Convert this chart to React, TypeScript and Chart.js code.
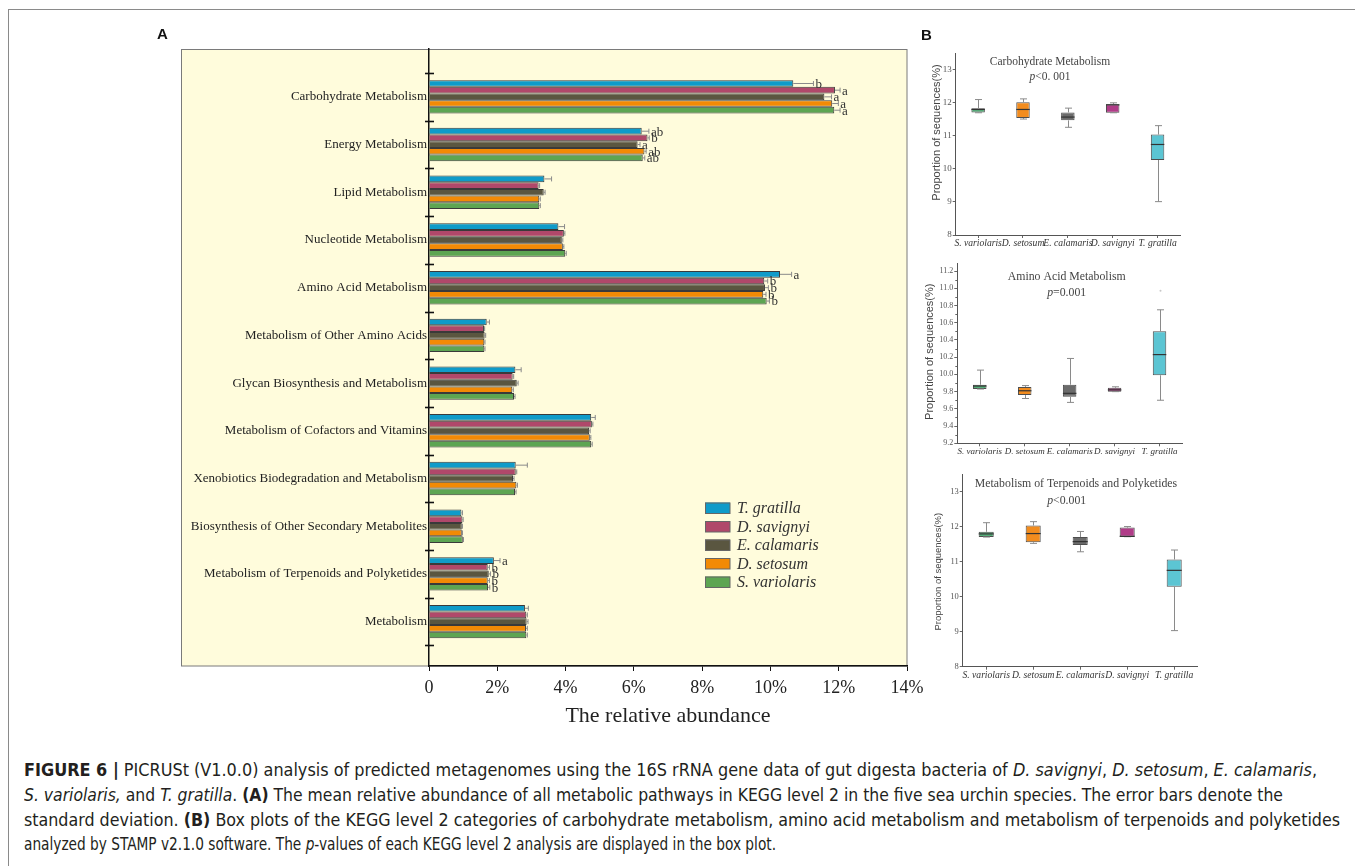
import React, { useEffect, useLayoutEffect, useRef } from "react";
import { Chart, registerables } from "chart.js";
Chart.register(...registerables);

const SERIF = '"Liberation Serif", "Times New Roman", serif';
const SANS = '"Liberation Sans", Arial, sans-serif';
Chart.defaults.font.family = SERIF;

// ---------------- Panel A data ----------------
const categories = [
  "Carbohydrate Metabolism",
  "Energy Metabolism",
  "Lipid Metabolism",
  "Nucleotide Metabolism",
  "Amino Acid Metabolism",
  "Metabolism of Other Amino Acids",
  "Glycan Biosynthesis and Metabolism",
  "Metabolism of Cofactors and Vitamins",
  "Xenobiotics Biodegradation and Metabolism",
  "Biosynthesis of Other Secondary Metabolites",
  "Metabolism of Terpenoids and Polyketides",
  "Metabolism",
];
const speciesA = ["T. gratilla", "D. savignyi", "E. calamaris", "D. setosum", "S. variolaris"];
const colorsA = ["#0f9bc9", "#b0486a", "#5a5640", "#f28a05", "#5da552"];

const tGratilla = [10.67, 6.23, 3.38, 3.79, 10.28, 1.69, 2.53, 4.75, 2.54, 0.95, 1.9, 2.81];
const dSavignyi = [11.89, 6.4, 3.21, 3.95, 9.82, 1.61, 2.45, 4.77, 2.54, 0.98, 1.72, 2.85];
const eCalamaris = [11.58, 6.11, 3.36, 3.89, 9.84, 1.63, 2.57, 4.69, 2.46, 0.96, 1.75, 2.86];
const dSetosum = [11.81, 6.31, 3.23, 3.92, 9.79, 1.62, 2.44, 4.71, 2.56, 0.96, 1.72, 2.84];
const sVariolaris = [11.87, 6.26, 3.23, 3.99, 9.89, 1.62, 2.49, 4.75, 2.52, 0.99, 1.73, 2.85];

const tGratillaSd = [0.59, 0.21, 0.21, 0.18, 0.34, 0.08, 0.17, 0.12, 0.34, 0.03, 0.18, 0.1];
const dSavignyiSd = [0.15, 0.05, 0.03, 0.03, 0.1, 0.02, 0.03, 0.03, 0.03, 0.02, 0.05, 0.03];
const eCalamarisSd = [0.21, 0.07, 0.04, 0.03, 0.1, 0.03, 0.04, 0.03, 0.03, 0.02, 0.05, 0.04];
const dSetosumSd = [0.18, 0.05, 0.03, 0.03, 0.08, 0.02, 0.03, 0.03, 0.03, 0.02, 0.05, 0.04];
const sVariolarisSd = [0.17, 0.06, 0.03, 0.03, 0.08, 0.02, 0.03, 0.03, 0.03, 0.02, 0.05, 0.03];

const tGratillaSig = ["b", "ab", "", "", "a", "", "", "", "", "", "a", ""];
const dSavignyiSig = ["a", "b", "", "", "b", "", "", "", "", "", "b", ""];
const eCalamarisSig = ["a", "a", "", "", "b", "", "", "", "", "", "b", ""];
const dSetosumSig = ["a", "ab", "", "", "b", "", "", "", "", "", "b", ""];
const sVariolarisSig = ["a", "ab", "", "", "b", "", "", "", "", "", "b", ""];

const xTicksA = [0, 2, 4, 6, 8, 10, 12, 14];

const seriesA = [tGratilla, dSavignyi, eCalamaris, dSetosum, sVariolaris];
const sdA = [tGratillaSd, dSavignyiSd, eCalamarisSd, dSetosumSd, sVariolarisSd];
const sigA = [tGratillaSig, dSavignyiSig, eCalamarisSig, dSetosumSig, sVariolarisSig];

// ---------------- Panel B data ----------------
const boxLabels = ["S. variolaris", "D. setosum", "E. calamaris", "D. savignyi", "T. gratilla"];
const boxColors = ["#55b07a", "#f28c1e", "#6b6b6b", "#b03c88", "#5cc5d3"];

const carbMin = [11.7, 11.51, 11.26, 11.7, 9.01];
const carbQ1 = [11.71, 11.54, 11.47, 11.7, 10.27];
const carbMed = [11.8, 11.8, 11.57, 11.94, 10.74];
const carbQ3 = [11.84, 12.02, 11.71, 11.96, 11.04];
const carbMax = [12.1, 12.12, 11.84, 12.0, 11.31];
const carbTicks = [8, 9, 10, 11, 12, 13];

const aminoMin = [9.83, 9.72, 9.675, 9.8, 9.7];
const aminoQ1 = [9.83, 9.76, 9.74, 9.8, 9.99];
const aminoMed = [9.865, 9.81, 9.78, 9.82, 10.23];
const aminoQ3 = [9.88, 9.855, 9.88, 9.845, 10.5];
const aminoMax = [10.05, 9.87, 10.185, 9.856, 10.75];
const aminoOutliers = [null, null, null, null, 10.97];
const aminoTicks = [9.2, 9.4, 9.6, 9.8, 10.0, 10.2, 10.4, 10.6, 10.8, 11.0, 11.2];
const aminoMinorTicks = [9.3, 9.5, 9.7, 9.9, 10.1, 10.3, 10.5, 10.7, 10.9, 11.1];

const terpMin = [11.7, 11.52, 11.28, 11.71, 9.03];
const terpQ1 = [11.7, 11.55, 11.47, 11.71, 10.28];
const terpMed = [11.79, 11.8, 11.57, 11.72, 10.75];
const terpQ3 = [11.85, 12.03, 11.7, 11.97, 11.06];
const terpMax = [12.11, 12.14, 11.86, 12.0, 11.33];
const terpTicks = [8, 9, 10, 11, 12, 13];

function drawMixed(c: any, parts: [string, boolean][], cx: number, cy: number, size: number, family: string, color: string) {
  c.save();
  c.fillStyle = color;
  c.textBaseline = "middle";
  c.textAlign = "left";
  const fonts = parts.map(([, it]) => `${it ? "italic " : ""}${size}px ${family}`);
  let total = 0;
  const widths = parts.map(([t], i) => {
    c.font = fonts[i];
    const w = c.measureText(t).width;
    total += w;
    return w;
  });
  let x = cx - total / 2;
  parts.forEach(([t], i) => {
    c.font = fonts[i];
    c.fillText(t, x, cy);
    x += widths[i];
  });
  c.restore();
}

// ---------------- Panel A ----------------
function ChartA() {
  const ref = useRef<HTMLCanvasElement>(null);
  useEffect(() => {
    const datasets = seriesA.map((vals, s) => ({
      label: speciesA[s],
      data: vals.map((v, i) => ({ x: v, y: i + 0.5 })),
      backgroundColor: colorsA[s],
      borderColor: "#3a3a3a",
      borderWidth: 1,
      borderSkipped: "start",
      categoryPercentage: 0.7,
      barPercentage: 1.0,
    }));
    const plugin = {
      id: "panelA",
      beforeDraw(chart: any) {
        const c = chart.ctx;
        c.save();
        c.fillStyle = "#fffcdc";
        c.fillRect(181, 49, 726, 617);
        c.strokeStyle = "#7a7a7a";
        c.lineWidth = 1;
        c.strokeRect(181.5, 49.5, 725.5, 616.5);
        c.restore();
      },
      afterDatasetsDraw(chart: any) {
        const c = chart.ctx;
        const xs = chart.scales.x;
        const ys = chart.scales.y;
        c.save();
        // error bars + letters
        seriesA.forEach((vals, s) => {
          const meta = chart.getDatasetMeta(s);
          meta.data.forEach((el: any, i: number) => {
            const xEnd = xs.getPixelForValue(vals[i] + sdA[s][i]);
            c.strokeStyle = "#8a8a8a";
            c.lineWidth = 1;
            c.beginPath();
            c.moveTo(el.x, el.y);
            c.lineTo(xEnd, el.y);
            c.moveTo(xEnd, el.y - 2.5);
            c.lineTo(xEnd, el.y + 2.5);
            c.stroke();
            const letter = sigA[s][i];
            if (letter) {
              c.fillStyle = "#333";
              c.font = `13px ${SERIF}`;
              c.textAlign = "left";
              c.textBaseline = "middle";
              c.fillText(letter, xEnd + 2, el.y + 1);
            }
          });
        });
        // boundary ticks on y axis
        c.strokeStyle = "#111";
        c.lineWidth = 1.6;
        for (let k = 0; k <= categories.length; k++) {
          const y = Math.round(ys.getPixelForValue(k)) + 0.5;
          c.beginPath();
          c.moveTo(425, y);
          c.lineTo(434, y);
          c.stroke();
        }
        // legend
        const ly = [508, 526.5, 545, 563.5, 582];
        speciesA.forEach((name, s) => {
          c.fillStyle = colorsA[s];
          c.fillRect(705, ly[s] - 5.5, 25, 11);
          c.strokeStyle = "#666";
          c.lineWidth = 1;
          c.strokeRect(705.5, ly[s] - 5, 24.5, 10.5);
          c.fillStyle = "#333";
          c.font = `italic 16px ${SERIF}`;
          c.textAlign = "left";
          c.textBaseline = "middle";
          c.fillText(name, 737, ly[s] + 1);
        });
        c.restore();
      },
    };
    const chart = new Chart(ref.current as HTMLCanvasElement, {
      type: "bar",
      data: { datasets: datasets as any },
      options: {
        indexAxis: "y",
        animation: false,
        responsive: false,
        layout: { padding: { top: 49, right: 33, left: 0, bottom: 0 } },
        plugins: { legend: { display: false }, tooltip: { enabled: false } },
        scales: {
          x: {
            type: "linear",
            position: "bottom",
            min: 0,
            max: 14,
            offset: false,
            afterBuildTicks: (s: any) => {
              s.ticks = xTicksA.map((v) => ({ value: v }));
            },
            ticks: {
              callback: (v: any) => (v === 0 ? "0" : v + "%"),
              font: { family: SERIF, size: 18 },
              color: "#222",
              padding: 6,
            },
            grid: { drawOnChartArea: false, tickLength: 5, color: "#111" },
            border: { color: "#111", width: 1.5 },
            title: {
              display: true,
              text: "The relative abundance",
              font: { family: SERIF, size: 22 },
              color: "#222",
              padding: { top: 0, bottom: 11 },
            },
            afterFit: (s: any) => {
              s.height = 74;
            },
          },
          y: {
            type: "linear",
            min: -0.503,
            max: 12.43,
            reverse: true,
            offset: false,
            afterBuildTicks: (s: any) => {
              s.ticks = categories.map((_, i) => ({ value: i + 0.5 }));
            },
            ticks: {
              callback: (_v: any, i: number) => categories[i],
              font: { family: SERIF, size: 13 },
              color: "#222",
              padding: 2,
              autoSkip: false,
            },
            grid: { display: false, drawTicks: false, tickLength: 0, offset: false },
            border: { color: "#111", width: 1.5 },
            afterFit: (s: any) => {
              s.width = 429;
            },
          },
        },
      } as any,
      plugins: [plugin],
    });
    return () => chart.destroy();
  }, []);
  return (
    <canvas
      ref={ref}
      width={940}
      height={740}
      style={{ position: "absolute", left: 0, top: 0, width: 940, height: 740 }}
    />
  );
}

// ---------------- Panel B ----------------
type BoxCfg = {
  left: number;
  top: number;
  width: number;
  height: number;
  axisWidth: number;
  padTop: number;
  padRight: number;
  xAxisHeight: number;
  min: number;
  max: number;
  ticks: number[];
  minorTicks?: number[];
  decimals: number;
  mn: number[];
  q1: number[];
  md: number[];
  q3: number[];
  mx: number[];
  outliers?: (number | null)[];
  title: string;
  titleX: number;
  titleY: number;
  titleSize: number;
  pParts: [string, boolean][];
  pX: number;
  pY: number;
  ytX: number;
  ytY: number;
  ytSize: number;
  xLabSize: number;
  yTickSize: number;
  barPct: number;
};

function BoxChart({ cfg }: { cfg: BoxCfg }) {
  const ref = useRef<HTMLCanvasElement>(null);
  useEffect(() => {
    const plugin = {
      id: "boxextra",
      afterDatasetsDraw(chart: any) {
        const c = chart.ctx;
        const xs = chart.scales.x;
        const ys = chart.scales.y;
        const meta = chart.getDatasetMeta(0);
        c.save();
        meta.data.forEach((el: any, i: number) => {
          const cx = Math.round(xs.getPixelForValue(i)) + 0.5;
          const half = el.width / 2;
          const yMax = ys.getPixelForValue(cfg.mx[i]);
          const yQ3 = ys.getPixelForValue(cfg.q3[i]);
          const yQ1 = ys.getPixelForValue(cfg.q1[i]);
          const yMin = ys.getPixelForValue(cfg.mn[i]);
          const yMd = ys.getPixelForValue(cfg.md[i]);
          c.strokeStyle = "#8a8a8a";
          c.lineWidth = 1;
          c.beginPath();
          c.moveTo(cx, yMax);
          c.lineTo(cx, yQ3);
          c.moveTo(cx, yQ1);
          c.lineTo(cx, yMin);
          c.moveTo(cx - 3.5, yMax);
          c.lineTo(cx + 3.5, yMax);
          c.moveTo(cx - 3.5, yMin);
          c.lineTo(cx + 3.5, yMin);
          c.stroke();
          c.strokeStyle = "#333";
          c.lineWidth = 1.2;
          c.beginPath();
          c.moveTo(el.x - half, yMd);
          c.lineTo(el.x + half, yMd);
          c.stroke();
          const o = cfg.outliers ? cfg.outliers[i] : null;
          if (o != null) {
            c.fillStyle = "#c8c8c8";
            c.beginPath();
            c.arc(cx, ys.getPixelForValue(o), 1, 0, Math.PI * 2);
            c.fill();
          }
        });
        // minor ticks
        if (cfg.minorTicks) {
          c.strokeStyle = "#666";
          c.lineWidth = 1;
          cfg.minorTicks.forEach((v) => {
            const y = Math.round(ys.getPixelForValue(v)) + 0.5;
            c.beginPath();
            c.moveTo(xs.left - 2, y);
            c.lineTo(xs.left, y);
            c.stroke();
          });
        }
        // titles
        c.fillStyle = "#444";
        c.font = `${cfg.titleSize}px ${SERIF}`;
        c.textAlign = "center";
        c.textBaseline = "middle";
        c.fillText(cfg.title, cfg.titleX, cfg.titleY);
        drawMixed(c, cfg.pParts, cfg.pX, cfg.pY, cfg.titleSize, SERIF, "#444");
        // y title
        c.save();
        c.translate(cfg.ytX, cfg.ytY);
        c.rotate(-Math.PI / 2);
        c.fillStyle = "#444";
        c.font = `${cfg.ytSize}px ${SANS}`;
        c.textAlign = "center";
        c.textBaseline = "middle";
        c.fillText("Proportion of sequences(%)", 0, 0);
        c.restore();
        c.restore();
      },
    };
    const chart = new Chart(ref.current as HTMLCanvasElement, {
      type: "bar",
      data: {
        labels: boxLabels,
        datasets: [
          {
            data: cfg.q1.map((v, i) => [v, cfg.q3[i]]),
            backgroundColor: boxColors,
            borderColor: "#4e4e4e",
            borderWidth: 1,
            borderSkipped: false,
            categoryPercentage: 1,
            barPercentage: cfg.barPct,
          },
        ],
      } as any,
      options: {
        animation: false,
        responsive: false,
        layout: { padding: { top: cfg.padTop, right: cfg.padRight, left: 0, bottom: 0 } },
        plugins: { legend: { display: false }, tooltip: { enabled: false } },
        scales: {
          x: {
            type: "category",
            offset: true,
            grid: { offset: false, drawOnChartArea: false, tickLength: 3, color: "#666" },
            border: { color: "#555" },
            ticks: {
              font: { family: SERIF, size: cfg.xLabSize, style: "italic" },
              color: "#333",
              padding: 0,
              maxRotation: 0,
              autoSkip: false,
            },
            afterFit: (s: any) => {
              s.height = cfg.xAxisHeight;
            },
          },
          y: {
            type: "linear",
            min: cfg.min,
            max: cfg.max,
            afterBuildTicks: (s: any) => {
              s.ticks = cfg.ticks.map((v) => ({ value: v }));
            },
            ticks: {
              callback: (v: any) => Number(v).toFixed(cfg.decimals),
              font: { family: SERIF, size: cfg.yTickSize },
              color: "#555",
              padding: 1,
              autoSkip: false,
            },
            grid: { drawOnChartArea: false, tickLength: 3, color: "#666" },
            border: { color: "#555" },
            afterFit: (s: any) => {
              s.width = cfg.axisWidth;
            },
          },
        },
      } as any,
      plugins: [plugin],
    });
    return () => chart.destroy();
  }, []);
  return (
    <canvas
      ref={ref}
      width={cfg.width}
      height={cfg.height}
      style={{ position: "absolute", left: cfg.left, top: cfg.top, width: cfg.width, height: cfg.height }}
    />
  );
}

const boxCfgs: BoxCfg[] = [
  {
    left: 900, top: 40, width: 300, height: 220,
    axisWidth: 55.7, padTop: 13.3, padRight: 20, xAxisHeight: 25,
    min: 8, max: 13.5, ticks: carbTicks, decimals: 0,
    mn: carbMin, q1: carbQ1, md: carbMed, q3: carbQ3, mx: carbMax,
    title: "Carbohydrate Metabolism", titleX: 150, titleY: 22, titleSize: 11.5,
    pParts: [["p", true], ["<0. 001", false]], pX: 150, pY: 37,
    ytX: 36.7, ytY: 92.5, ytSize: 11, xLabSize: 9.6, yTickSize: 9, barPct: 0.3,
  },
  {
    left: 900, top: 250, width: 300, height: 210,
    axisWidth: 57.3, padTop: 13.3, padRight: 18, xAxisHeight: 16.7,
    min: 9.2, max: 11.29, ticks: aminoTicks, minorTicks: aminoMinorTicks, decimals: 1,
    mn: aminoMin, q1: aminoQ1, md: aminoMed, q3: aminoQ3, mx: aminoMax, outliers: aminoOutliers,
    title: "Amino Acid Metabolism", titleX: 166.7, titleY: 27.3, titleSize: 11.8,
    pParts: [["p", true], ["=0.001", false]], pX: 166.7, pY: 42.7,
    ytX: 30, ytY: 101.7, ytSize: 11, xLabSize: 9, yTickSize: 8, barPct: 0.3,
  },
  {
    left: 900, top: 460, width: 320, height: 230,
    axisWidth: 62.7, padTop: 14, padRight: 22.3, xAxisHeight: 23.3,
    min: 8, max: 13.5, ticks: terpTicks, decimals: 0,
    mn: terpMin, q1: terpQ1, md: terpMed, q3: terpQ3, mx: terpMax,
    title: "Metabolism of Terpenoids and Polyketides", titleX: 176, titleY: 24, titleSize: 11.8,
    pParts: [["p", true], ["<0.001", false]], pX: 166.7, pY: 40.7,
    ytX: 38.3, ytY: 111.7, ytSize: 9.5, xLabSize: 9.6, yTickSize: 8.5, barPct: 0.32,
  },
];

// ---------------- Caption ----------------
const CAP_FONT = '"Liberation Sans Narrow", "Arial Narrow", "DejaVu Sans Condensed", "Liberation Sans", sans-serif';
const captionRight = [1317, 1283, 1340, 776];
const captionCenters = [770, 795, 820, 844];

function Caption() {
  const refs = useRef<(HTMLSpanElement | null)[]>([]);
  useLayoutEffect(() => {
    refs.current.forEach((el, i) => {
      if (!el) return;
      el.style.transform = "none";
      const w = el.getBoundingClientRect().width;
      if (w > 0) el.style.transform = `scaleX(${(captionRight[i] - 24) / w})`;
    });
  }, []);
  const lines: React.ReactNode[] = [
    <>
      <b>FIGURE 6 |</b> PICRUSt (V1.0.0) analysis of predicted metagenomes using the 16S rRNA gene data of gut digesta bacteria of{" "}
      <i>D. savignyi</i>, <i>D. setosum</i>, <i>E. calamaris</i>,
    </>,
    <>
      <i>S. variolaris,</i> and <i>T. gratilla</i>. <b>(A)</b> The mean relative abundance of all metabolic pathways in KEGG level 2 in the five sea urchin species. The error bars denote the
    </>,
    <>
      standard deviation. <b>(B)</b> Box plots of the KEGG level 2 categories of carbohydrate metabolism, amino acid metabolism and metabolism of terpenoids and polyketides
    </>,
    <>
      analyzed by STAMP v2.1.0 software. The <i>p</i>-values of each KEGG level 2 analysis are displayed in the box plot.
    </>,
  ];
  return (
    <>
      {lines.map((ln, i) => (
        <span
          key={i}
          ref={(el) => {
            refs.current[i] = el;
          }}
          style={{
            position: "absolute",
            left: 24,
            top: captionCenters[i] - 10,
            height: 20,
            lineHeight: "20px",
            whiteSpace: "nowrap",
            fontFamily: CAP_FONT,
            fontSize: 17,
            color: "#231f20",
            transformOrigin: "left center",
            display: "inline-block",
          }}
        >
          {ln}
        </span>
      ))}
    </>
  );
}

export default function App() {
  return (
    <div
      style={{
        position: "absolute",
        left: 0,
        top: 0,
        width: 1355,
        height: 866,
        background: "#fff",
        overflow: "hidden",
      }}
    >
      <div
        style={{
          position: "absolute",
          left: 8,
          top: 9,
          width: 1347,
          height: 857,
          borderTop: "1px solid #8a8a8a",
          borderLeft: "1px solid #8a8a8a",
        }}
      />
      <ChartA />
      {boxCfgs.map((cfg, i) => (
        <BoxChart key={i} cfg={cfg} />
      ))}
      <div
        style={{
          position: "absolute",
          left: 157,
          top: 25,
          fontFamily: SANS,
          fontWeight: "bold",
          fontSize: 15,
          lineHeight: "17px",
          color: "#111",
        }}
      >
        A
      </div>
      <div
        style={{
          position: "absolute",
          left: 921,
          top: 26,
          fontFamily: SANS,
          fontWeight: "bold",
          fontSize: 15,
          lineHeight: "17px",
          color: "#111",
        }}
      >
        B
      </div>
      <Caption />
    </div>
  );
}
